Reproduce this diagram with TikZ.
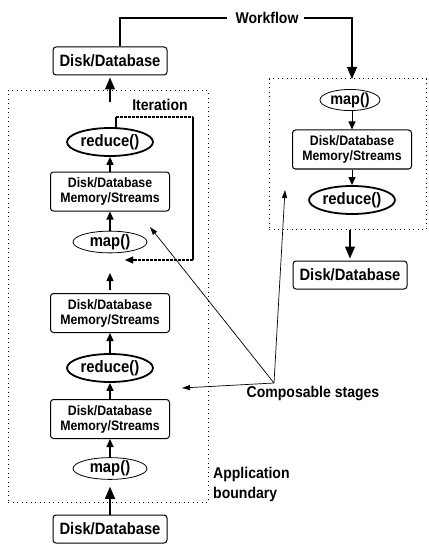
\documentclass[tikz,border=0pt]{standalone}
\usepackage{fontspec}
\setmainfont[FakeStretch=0.9]{Liberation Sans}
\usetikzlibrary{arrows.meta,shapes.geometric}
\begin{document}
\begin{tikzpicture}[x=1pt,y=-1pt,
 dbbox/.style={draw,rounded corners=3pt,line width=1pt,minimum width=114pt,minimum height=28pt,inner sep=0pt,font=\fontsize{16.4}{17}\selectfont\bfseries},
 dmbox/.style={draw,rounded corners=3pt,line width=1pt,minimum width=119pt,minimum height=39pt,inner sep=0pt,align=center,font=\fontsize{13.7}{15}\selectfont\bfseries},
 mapell/.style={draw,ellipse,line width=0.8pt,minimum width=74pt,minimum height=18pt,inner sep=0pt,font=\fontsize{16.5}{17}\selectfont\bfseries},
 redell/.style={draw,ellipse,line width=1.8pt,minimum width=86pt,minimum height=28pt,inner sep=0pt,font=\fontsize{16.5}{17}\selectfont\bfseries},
 boundary/.style={draw,line width=1pt,dash pattern=on 1pt off 3.5pt,inner sep=0pt},
 sarrow/.style={-{Triangle[width=7pt,length=8pt]},line width=1.2pt},
 barrow/.style={-{Triangle[width=10pt,length=12pt]},line width=1.2pt},
 tarrow/.style={-{Triangle[width=5pt,length=8pt]},line width=0.7pt},
 lbl/.style={inner sep=0pt,font=\fontsize{15.6}{20}\selectfont\bfseries}]
\useasboundingbox[fill=white] (0,0) rectangle (428,548);
% boundaries
\node[boundary,minimum width=200pt,minimum height=411pt] (lbound) at (108,296.5) {};
\node[boundary,minimum width=157pt,minimum height=150pt] (rbound) at (347.5,154) {};
% left column
\node[dbbox] (topdb) at (110,61) {Disk/Database};
\node[redell] (red1) at (110,142) {reduce()};
\node[dmbox] (box1) at (110,191.5) {Disk/Database\\Memory/Streams};
\node[mapell] (map1) at (110,242) {map()};
\node[dmbox] (box2) at (110,313) {Disk/Database\\Memory/Streams};
\node[redell] (red2) at (110,368) {reduce()};
\node[dmbox] (box3) at (110,419) {Disk/Database\\Memory/Streams};
\node[mapell,minimum height=19pt] (map2) at (110,468.5) {map()};
\node[dbbox] (botdb) at (110,529) {Disk/Database};
% right column
\node[mapell,minimum width=60pt,minimum height=16pt,font=\fontsize{16}{17}\selectfont\bfseries] (rmap) at (350,100) {map()};
\node[dmbox] (rbox) at (352,149.5) {Disk/Database\\Memory/Streams};
\node[redell] (rred) at (352,200) {reduce()};
\node[dbbox] (rdb) at (350,275) {Disk/Database};
% labels
\node[lbl] (wf) at (267,18) {Workflow};
\node[lbl] (iter) at (160,105) {Iteration};
\node[lbl] (comp) at (313,393) {Composable stages};
\node[lbl,align=left,anchor=north west] (app) at (213,467) {Application\\boundary};
% coordinates
\coordinate (topstart) at (110,102);
\coordinate (rtop) at (352,79);
\coordinate (itA) at (116,128.3);
\coordinate (itB) at (116,117);
\coordinate (itC) at (193,117);
\coordinate (itD) at (193,260);
\coordinate (itE) at (125,260);
\coordinate (midstart) at (110,290);
\coordinate (midend) at (110,273);
\coordinate (cs) at (274,383);
\coordinate (t1) at (150,227);
\coordinate (t2) at (285,190);
\coordinate (t3) at (182,388);
% workflow
\draw[line width=1.1pt] ([xshift=10pt]topdb.north) |- ([xshift=-8pt]wf.west);
\draw[barrow,line width=1.1pt] ([xshift=5pt]wf.east) -| (rtop);
% left arrows
\draw[barrow,shorten >=2pt] (topstart) -- (topdb.south);
\draw[sarrow] (box1.north) -- (red1.south);
\draw[sarrow] (map1.north) -- (box1.south);
\draw[sarrow] (midstart) -- (midend);
\draw[sarrow] (red2.north) -- (box2.south);
\draw[sarrow] (box3.north) -- (red2.south);
\draw[sarrow] (map2.north) -- (box3.south);
\draw[barrow,shorten >=7pt] (botdb.north) -- (map2.south);
% iteration loop
\draw[line width=1.2pt] (itA) -- (itB);
\draw[line width=1.2pt,dash pattern=on 3pt off 1pt] (itB) -- (itC);
\draw[line width=2pt] (itC) -- (itD);
\draw[sarrow,dash pattern=on 3pt off 1pt] (itD) -- (itE);
% right arrows
\draw[sarrow,line width=1pt] (rmap.south -| rbox.north) -- (rbox.north);
\draw[sarrow,line width=1pt] (rbox.south) -- (rred.north);
\draw[barrow,shorten >=2pt] (rbound.south -| rdb.north) -- (rdb.north);
% composable stages
\draw[tarrow] (cs) -- (t1);
\draw[tarrow] (cs) -- (t2);
\draw[tarrow] (cs) -- (t3);
\end{tikzpicture}
\end{document}
